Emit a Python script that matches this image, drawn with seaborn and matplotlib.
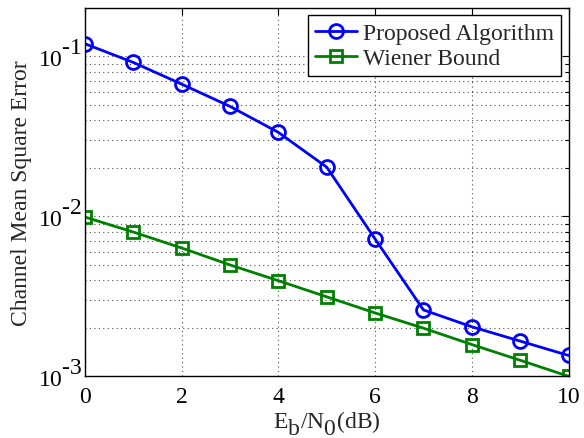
import matplotlib
matplotlib.use("Agg")
import matplotlib.pyplot as plt
import matplotlib._mathtext as _mt
import matplotlib.transforms as mtransforms
import seaborn as sns
import numpy as np
import pandas as pd
from matplotlib.ticker import LogLocator, FixedLocator, NullFormatter, FixedFormatter

snr_db = [0, 1, 2, 3, 4, 5, 6, 7, 8, 9, 10]
proposed = [0.120, 0.0917, 0.0671, 0.0487, 0.0335, 0.0203, 0.00722, 0.00260, 0.00204, 0.00166, 0.00135]
wiener = [0.0099, 0.00798, 0.00634, 0.00497, 0.00396, 0.00314, 0.00249, 0.00200, 0.00158, 0.00126, 0.00100]
series_names = ["Proposed Algorithm", "Wiener Bound"]
x_ticks = [0, 2, 4, 6, 8, 10]
y_ticks = [1e-3, 1e-2, 1e-1]
y_ticklabels = [r"$\mathregular{10^{\text{-3}}}$", r"$\mathregular{10^{\text{-2}}}$", r"$\mathregular{10^{\text{-1}}}$"]

# MATLAB-like full-size, strongly offset super/subscripts
_mt.SHRINK_FACTOR = 1.0
_mt.FontConstantsBase.sup1 = 1.1
_mt.FontConstantsBase.sub1 = 0.7
_mt.FontConstantsBase.sub2 = 0.8

sns.set_style("white")
plt.rcParams["font.family"] = ["Liberation Serif", "DejaVu Serif"]
plt.rcParams["mathtext.fontset"] = "custom"
plt.rcParams["mathtext.rm"] = "Liberation Serif"
plt.rcParams["mathtext.it"] = "Liberation Serif:italic"

fig = plt.figure(figsize=(5.84, 4.39), dpi=100)
ax = fig.add_axes([85/584, 1-377.3/439, (568.5-85)/584, (377.3-9.3)/439])

df = pd.DataFrame({"x": snr_db, "p": proposed, "w": wiener})
sns.lineplot(data=df, x="x", y="p", ax=ax, color=(0, 0, 1), lw=2, marker="o",
             markersize=10, markerfacecolor="none", markeredgecolor=(0, 0, 1),
             markeredgewidth=2, label=series_names[0])
sns.lineplot(data=df, x="x", y="w", ax=ax, color=(0, 0.5, 0), lw=2, marker="s",
             markersize=9, markerfacecolor="none", markeredgecolor=(0, 0.5, 0),
             markeredgewidth=2, label=series_names[1])

ax.set_yscale("log")
ax.set_xlim(0, 10)
ax.set_ylim(1e-3, 0.2)
ax.xaxis.set_major_locator(FixedLocator(x_ticks))
ax.yaxis.set_major_locator(FixedLocator(y_ticks))
ax.yaxis.set_major_formatter(FixedFormatter(y_ticklabels))
ax.yaxis.set_minor_locator(LogLocator(base=10, subs=np.arange(2, 10), numticks=20))
ax.yaxis.set_minor_formatter(NullFormatter())

ax.grid(True, which="major", axis="both", linestyle=(0, (1, 3)), color="0.3", lw=0.8)
ax.grid(True, which="minor", axis="y", linestyle=(0, (1, 3)), color="0.3", lw=0.8)
ax.tick_params(which="both", direction="in", top=True, right=True, labelsize=17, colors="black")
ax.tick_params(which="major", length=5, width=0.8)
ax.tick_params(which="minor", length=3, width=0.8)
ax.tick_params(axis="x", pad=7)
ax.tick_params(axis="y", pad=2)
for s in ax.spines.values():
    s.set_color("black")
    s.set_linewidth(1.0)

# nudge y tick labels up slightly so the "10" is centred on the tick
_up = mtransforms.ScaledTranslation(0, 2.5 / 72, fig.dpi_scale_trans)
for _lab in ax.get_yticklabels():
    _lab.set_transform(_lab.get_transform() + _up)

ax.set_xlabel(r"$\mathregular{E_b/N_0}$(dB)", fontsize=17, labelpad=1)
ax.set_ylabel("Channel Mean Square Error", fontsize=17, labelpad=4)

leg = ax.legend(loc="upper right", fontsize=17, frameon=True, fancybox=False,
                edgecolor="black", framealpha=1, borderaxespad=0.3,
                handlelength=1.8, borderpad=0.3, labelspacing=0.15, handletextpad=0.25)
leg.get_frame().set_linewidth(1.0)

fig.savefig("out.png", dpi=100)
